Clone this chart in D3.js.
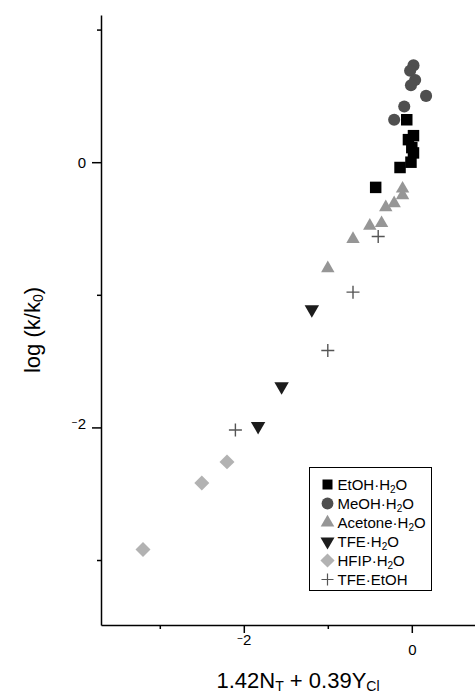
<!DOCTYPE html>
<html lang="en">
	<head>
		<meta charset="UTF-8" />
		<title>log(k/k0) vs 1.42NT + 0.39YCl</title>
		<style>
			body { margin: 0; background: #fff; }
			svg { font-family: 'Liberation Sans', Arial, sans-serif; }
		</style>
	</head>
	<body>
		<svg id="svg" width="475" height="693"></svg>
		<script src="https://d3js.org/d3.v7.min.js"></script>
		<script>
			// Data: [1.42NT + 0.39YCl, log(k/k0)]
			const etohH2O = [
				[-0.06, 0.32], [0.02, 0.2], [-0.04, 0.17], [0.0, 0.11],
				[0.02, 0.07], [-0.01, 0.0], [-0.14, -0.04], [-0.43, -0.19],
			];
			const meohH2O = [
				[0.02, 0.73], [-0.02, 0.69], [0.04, 0.62], [-0.01, 0.58],
				[0.17, 0.5], [-0.09, 0.42], [-0.21, 0.32],
			];
			const acetoneH2O = [
				[-0.11, -0.2], [-0.11, -0.25], [-0.21, -0.31], [-0.31, -0.34],
				[-0.36, -0.46], [-0.5, -0.48], [-0.7, -0.58], [-1.0, -0.8],
			];
			const tfeH2O = [[-1.19, -1.11], [-1.55, -1.69], [-1.83, -1.99]];
			const hfipH2O = [[-2.2, -2.26], [-2.5, -2.42], [-3.2, -2.92]];
			const tfeEtOH = [[-0.4, -0.56], [-0.7, -0.98], [-1.0, -1.42], [-2.1, -2.02]];

			const seriesNames = ['EtOH', 'MeOH', 'Acetone', 'TFE', 'HFIP', 'TFE'];
			const seriesPartners = ['H', 'H', 'H', 'H', 'H', 'EtOH'];

			const xTicks = [-3, -2, -1, 0];
			const xLabelled = [-2, 0];
			const yTicks = [1, 0, -1, -2, -3];
			const yLabelled = [0, -2];

			const svg = d3.select('#svg');

			// Scales
			const x = d3.scaleLinear().domain([-3.7, 0.75]).range([101, 474.8]);
			const y = d3.scaleLinear().domain([-3.49, 1.11]).range([625, 15]);

			// minus sign drawn small, like the original
			function signedLabel(sel) {
				sel.each(function (d) {
					const t = d3.select(this);
					const s = t.text();
					t.text(null);
					if (s === '') return;
					if (d < 0) {
						t.append('tspan').attr('font-size', 10).attr('dy', '-0.2em').text('\u2212');
						t.append('tspan').attr('dy', '0.2em').text(Math.abs(d));
					} else {
						t.append('tspan').text(d);
					}
				});
			}

			// Axes
			const leftAxis = d3
				.axisLeft(y)
				.tickValues(yTicks)
				.tickFormat((d) => (yLabelled.includes(d) ? d : ''))
				.tickSizeInner(4)
				.tickSizeOuter(0)
				.tickPadding(11);
			const gy = svg.append('g').attr('transform', 'translate(101,0)').call(leftAxis);
			gy.selectAll('.tick line').attr('x2', (d) => (yLabelled.includes(d) ? -9 : -4));
			gy.selectAll('.tick text').attr('font-size', 15).call(signedLabel);

			const bottomAxis = d3
				.axisBottom(x)
				.tickValues(xTicks)
				.tickFormat((d) => (xLabelled.includes(d) ? d : ''))
				.tickSizeInner(4)
				.tickSizeOuter(0)
				.tickPadding(15);
			const gx = svg.append('g').attr('transform', 'translate(0,625)').call(bottomAxis);
			gx.selectAll('.tick line').attr('y2', (d) => (xLabelled.includes(d) ? 8 : 4));
			gx.selectAll('.tick text').attr('font-size', 15).call(signedLabel);

			svg.selectAll('.domain, .tick line').attr('stroke', '#000').attr('stroke-width', 1.5);
			svg.selectAll('.tick text').attr('fill', '#000').attr('font-family', null);

			// Axis titles
			const yTitle = svg
				.append('text')
				.attr('transform', 'translate(40,330) rotate(-90)')
				.attr('text-anchor', 'middle')
				.attr('font-size', 22);
			yTitle.append('tspan').text('log (k/k');
			yTitle.append('tspan').attr('font-size', 14).attr('dy', 3).text('0');
			yTitle.append('tspan').attr('dy', -3).text(')');

			const xTitle = svg
				.append('text')
				.attr('x', 298)
				.attr('y', 688)
				.attr('text-anchor', 'middle')
				.attr('font-size', 22);
			xTitle.append('tspan').text('1.42N');
			xTitle.append('tspan').attr('font-size', 14).attr('dy', 3).text('T');
			xTitle.append('tspan').attr('dy', -3).text(' + 0.39Y');
			xTitle.append('tspan').attr('font-size', 14).attr('dy', 3).text('Cl');

			// Marker styles
			const plusPath = 'M-6.5,0H6.5M0,-6.5V6.5';
			const styles = [
				{ data: etohH2O, d: d3.symbol(d3.symbolSquare, 132)(), fill: '#000', rot: 0 },
				{ data: meohH2O, d: d3.symbol(d3.symbolCircle, 115)(), fill: '#4f4f4f', rot: 0 },
				{ data: acetoneH2O, d: d3.symbol(d3.symbolTriangle, 78)(), fill: '#969696', rot: 0 },
				{ data: tfeH2O, d: d3.symbol(d3.symbolTriangle, 90)(), fill: '#1c1c1c', rot: 180 },
				{ data: hfipH2O, d: d3.symbol(d3.symbolSquare, 112)(), fill: '#b2b2b2', rot: 45 },
				{ data: tfeEtOH, d: plusPath, fill: 'none', stroke: '#555', rot: 0 },
			];

			const graph = svg.append('g');
			styles.forEach((s) => {
				graph
					.selectAll(null)
					.data(s.data)
					.join('path')
					.attr('d', s.d)
					.attr('transform', (p) => `translate(${x(p[0])},${y(p[1])}) rotate(${s.rot})`)
					.attr('fill', s.fill)
					.attr('stroke', s.stroke || 'none')
					.attr('stroke-width', 1.4);
			});

			// Legend
			const legend = svg.append('g').attr('transform', 'translate(309.5,467.5)');
			legend
				.append('rect')
				.attr('width', 122)
				.attr('height', 123)
				.attr('fill', '#fff')
				.attr('stroke', '#000')
				.attr('stroke-width', 1);
			const legendSymbols = [
				d3.symbol(d3.symbolSquare, 100)(),
				d3.symbol(d3.symbolCircle, 110)(),
				d3.symbol(d3.symbolTriangle, 80)(),
				d3.symbol(d3.symbolTriangle, 85)(),
				d3.symbol(d3.symbolSquare, 100)(),
				'M-6,0H6M0,-6V6',
			];
			styles.forEach((s, i) => {
				const row = legend.append('g').attr('transform', `translate(0,${17 + i * 19})`);
				row
					.append('path')
					.attr('d', legendSymbols[i])
					.attr('transform', `translate(18,0) rotate(${s.rot})`)
					.attr('fill', s.fill)
					.attr('stroke', s.stroke || 'none')
					.attr('stroke-width', 1.2);
				const t = row.append('text').attr('x', 28).attr('y', 5.5).attr('font-size', 15);
				t.append('tspan').text(seriesNames[i] + '\u00b7' + seriesPartners[i]);
				if (seriesPartners[i] === 'H') {
					t.append('tspan').attr('font-size', 10).attr('dy', 3).text('2');
					t.append('tspan').attr('dy', -3).text('O');
				}
			});
		</script>
	</body>
</html>
